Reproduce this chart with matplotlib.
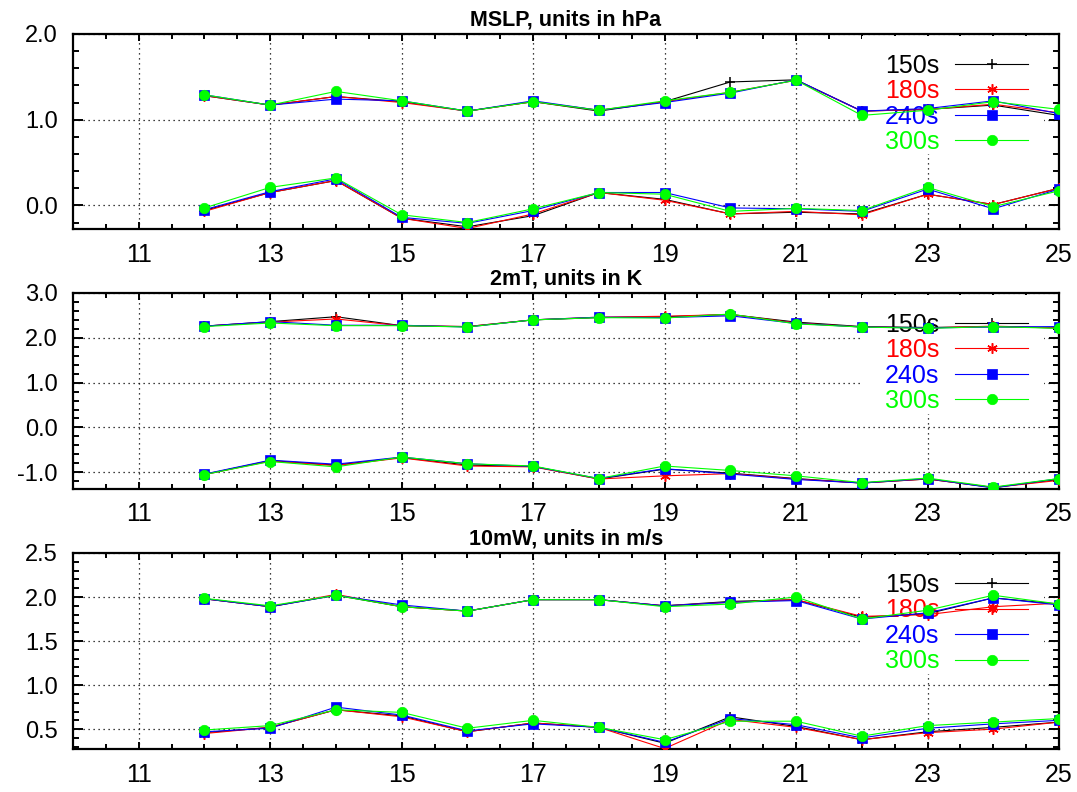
import matplotlib
matplotlib.use("Agg")
import matplotlib.pyplot as plt
from matplotlib.patches import Rectangle
from matplotlib.ticker import MultipleLocator, FormatStrFormatter

plt.rcParams['font.family'] = ['Liberation Sans', 'DejaVu Sans']

# forecast hours
horas = [12, 13, 14, 15, 16, 17, 18, 19, 20, 21, 22, 23, 24, 25]

etiquetas = ["150s", "180s", "240s", "300s"]
colores = ["#000000", "#ff0000", "#0000ff", "#00ff00"]
marcadores = ["+", (6, 2, 0), "s", "o"]

# MSLP (upper curves / lower curves)
mslp_sup_150 = [1.28, 1.17, 1.27, 1.21, 1.10, 1.21, 1.10, 1.21, 1.44, 1.465, 1.10, 1.12, 1.17, 1.05]
mslp_sup_180 = [1.28, 1.17, 1.27, 1.20, 1.10, 1.21, 1.11, 1.21, 1.32, 1.46, 1.10, 1.12, 1.18, 1.08]
mslp_sup_240 = [1.29, 1.17, 1.24, 1.22, 1.10, 1.22, 1.11, 1.20, 1.31, 1.465, 1.10, 1.13, 1.22, 1.07]
mslp_sup_300 = [1.29, 1.17, 1.33, 1.22, 1.10, 1.21, 1.11, 1.22, 1.32, 1.46, 1.05, 1.11, 1.21, 1.12]
mslp_inf_150 = [-0.06, 0.15, 0.29, -0.15, -0.25, -0.12, 0.15, 0.07, -0.10, -0.08, -0.10, 0.13, 0.01, 0.20]
mslp_inf_180 = [-0.07, 0.15, 0.29, -0.15, -0.27, -0.10, 0.15, 0.06, -0.10, -0.07, -0.11, 0.13, 0.01, 0.20]
mslp_inf_240 = [-0.05, 0.16, 0.31, -0.14, -0.21, -0.06, 0.15, 0.15, -0.03, -0.04, -0.07, 0.19, -0.04, 0.19]
mslp_inf_300 = [-0.03, 0.21, 0.32, -0.11, -0.20, -0.04, 0.15, 0.13, -0.07, -0.035, -0.06, 0.21, -0.015, 0.17]

# 2mT
t2m_sup_150 = [2.26, 2.36, 2.47, 2.27, 2.25, 2.40, 2.45, 2.47, 2.52, 2.35, 2.25, 2.23, 2.25, 2.22]
t2m_sup_180 = [2.26, 2.35, 2.42, 2.27, 2.25, 2.40, 2.46, 2.48, 2.52, 2.33, 2.24, 2.22, 2.26, 2.22]
t2m_sup_240 = [2.26, 2.36, 2.28, 2.28, 2.24, 2.40, 2.46, 2.45, 2.49, 2.32, 2.24, 2.22, 2.24, 2.25]
t2m_sup_300 = [2.25, 2.33, 2.27, 2.27, 2.24, 2.40, 2.45, 2.44, 2.53, 2.31, 2.24, 2.21, 2.25, 2.21]
t2m_inf_150 = [-1.05, -0.74, -0.84, -0.67, -0.84, -0.87, -1.15, -0.93, -1.02, -1.14, -1.24, -1.15, -1.34, -1.16]
t2m_inf_180 = [-1.05, -0.75, -0.85, -0.68, -0.86, -0.88, -1.15, -1.08, -1.03, -1.15, -1.24, -1.15, -1.34, -1.18]
t2m_inf_240 = [-1.04, -0.73, -0.82, -0.66, -0.81, -0.87, -1.14, -0.92, -1.04, -1.16, -1.24, -1.14, -1.35, -1.14]
t2m_inf_300 = [-1.05, -0.76, -0.88, -0.66, -0.81, -0.86, -1.14, -0.86, -0.96, -1.08, -1.23, -1.13, -1.33, -1.14]

# 10mW
w10_sup_150 = [1.98, 1.89, 2.02, 1.89, 1.84, 1.97, 1.97, 1.90, 1.95, 1.97, 1.77, 1.81, 1.99, 1.92]
w10_sup_180 = [1.98, 1.89, 2.03, 1.89, 1.84, 1.97, 1.97, 1.90, 1.94, 1.97, 1.78, 1.80, 1.89, 1.93]
w10_sup_240 = [1.98, 1.89, 2.02, 1.91, 1.84, 1.97, 1.97, 1.90, 1.94, 1.96, 1.75, 1.82, 1.99, 1.91]
w10_sup_300 = [1.985, 1.90, 2.02, 1.89, 1.84, 1.97, 1.97, 1.89, 1.92, 2.00, 1.75, 1.85, 2.02, 1.92]
w10_inf_150 = [0.46, 0.52, 0.72, 0.65, 0.47, 0.57, 0.52, 0.34, 0.64, 0.53, 0.38, 0.47, 0.52, 0.58]
w10_inf_180 = [0.45, 0.52, 0.72, 0.64, 0.47, 0.57, 0.52, 0.28, 0.61, 0.52, 0.38, 0.46, 0.50, 0.58]
w10_inf_240 = [0.47, 0.51, 0.75, 0.66, 0.48, 0.56, 0.52, 0.35, 0.62, 0.55, 0.40, 0.51, 0.56, 0.60]
w10_inf_300 = [0.49, 0.54, 0.72, 0.69, 0.51, 0.60, 0.52, 0.38, 0.59, 0.59, 0.42, 0.54, 0.58, 0.62]

paneles = [
    ("MSLP, units in hPa",
     [mslp_sup_150, mslp_sup_180, mslp_sup_240, mslp_sup_300],
     [mslp_inf_150, mslp_inf_180, mslp_inf_240, mslp_inf_300],
     (-0.28, 2.0), 1.0, 0.2),
    ("2mT, units in K",
     [t2m_sup_150, t2m_sup_180, t2m_sup_240, t2m_sup_300],
     [t2m_inf_150, t2m_inf_180, t2m_inf_240, t2m_inf_300],
     (-1.38, 3.0), 1.0, 0.2),
    ("10mW, units in m/s",
     [w10_sup_150, w10_sup_180, w10_sup_240, w10_sup_300],
     [w10_inf_150, w10_inf_180, w10_inf_240, w10_inf_300],
     (0.27, 2.5), 0.5, 0.1),
]

fig = plt.figure(figsize=(10.77, 7.92), dpi=100)

# axes boxes (left, bottom, width, height) in figure fraction
cajas = [
    (0.0678, 0.7104, 0.9155, 0.2467),
    (0.0678, 0.3822, 0.9155, 0.2479),
    (0.0678, 0.0538, 0.9155, 0.2480),
]

for caja, (titulo, sup, inf, ylim, paso, paso_menor) in zip(cajas, paneles):
    ax = fig.add_axes(caja)
    ax.set_axisbelow(True)

    for k in range(4):
        mew = 1.1 if k < 2 else 0.5
        ax.plot(horas, sup[k], color=colores[k], marker=marcadores[k],
                markersize=7.5, markeredgewidth=mew,
                linewidth=0.8, label=etiquetas[k], zorder=3 + k)
        ax.plot(horas, inf[k], color=colores[k], marker=marcadores[k],
                markersize=7.5, markeredgewidth=mew,
                linewidth=0.8, zorder=3 + k)

    ax.set_xlim(10, 25)
    ax.set_ylim(*ylim)
    ax.xaxis.set_major_locator(MultipleLocator(2, offset=1))
    ax.xaxis.set_minor_locator(MultipleLocator(0.5))
    ax.yaxis.set_major_locator(MultipleLocator(paso))
    ax.yaxis.set_minor_locator(MultipleLocator(paso_menor))
    ax.yaxis.set_major_formatter(FormatStrFormatter('%.1f'))

    ax.grid(True, which='major', color='black', linestyle=(0, (1, 3)), linewidth=0.9)
    ax.tick_params(which='both', direction='in', top=True, right=True, width=1.4)
    ax.tick_params(axis='x', which='major', length=5, pad=9.5, labelsize=18)
    ax.tick_params(axis='x', which='minor', length=3.5)
    ax.tick_params(axis='y', which='major', length=7, pad=11, labelsize=17)
    ax.tick_params(axis='y', which='minor', length=4.5)
    for s in ax.spines.values():
        s.set_linewidth(1.6)

    ax.set_title(titulo, fontsize=15.5, fontweight='bold', pad=6)

    # white key box hiding the grid behind the legend
    ax.add_patch(Rectangle((0.800, 0.385), 0.185, 0.605, transform=ax.transAxes,
                           facecolor='white', edgecolor='none', zorder=1.8))

    leg = ax.legend(loc='upper right', bbox_to_anchor=(0.971, 0.912),
                    markerfirst=False, frameon=False,
                    fontsize=18, handlelength=2.9, handletextpad=0.65,
                    labelspacing=0.06, borderpad=0.1, borderaxespad=0)
    leg.set_zorder(2.5)
    for texto, c in zip(leg.get_texts(), colores):
        texto.set_color(c)

fig.savefig("out.png", dpi=100)
